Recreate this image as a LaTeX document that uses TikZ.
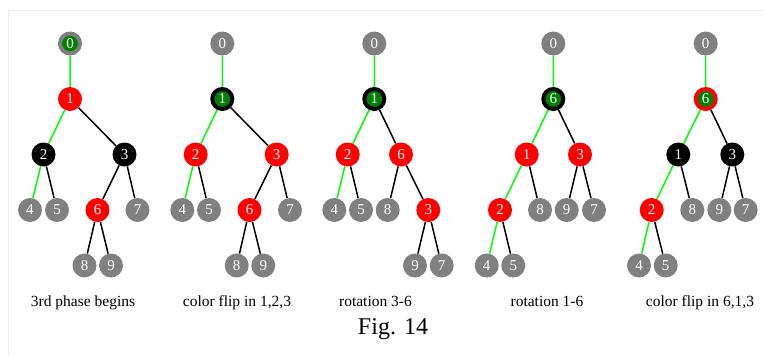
\documentclass[tikz,border=0pt]{standalone}
\usepackage{fontspec}
\setmainfont{Liberation Serif}
\usetikzlibrary{backgrounds}
\definecolor{nodegray}{HTML}{808080}
\definecolor{curgreen}{HTML}{008000}
\definecolor{edgegreen}{HTML}{00FF00}
\definecolor{framegray}{HTML}{EEEEEE}
\tikzset{
  nd/.style={circle, inner sep=0pt, minimum size=24pt, text=white, font=\fontsize{15}{15}\selectfont},
  gn/.style={nd, fill=nodegray},
  rn/.style={nd, fill=red},
  bn/.style={nd, fill=black},
  cn/.style={circle, inner sep=0pt, minimum size=20pt, fill=curgreen, draw=#1, line width=4pt, text=white, font=\fontsize{15}{15}\selectfont},
  ge/.style={draw=edgegreen, line width=1.5pt},
  be/.style={draw=black, line width=1.5pt},
  captxt/.style={anchor=base, font=\fontsize{15.5}{15.5}\selectfont},
}
\begin{document}
\begin{tikzpicture}[x=1pt,y=-1pt]
\useasboundingbox (0,0) rectangle (764,356);
\draw[framegray, line width=1pt] (8.5,356) -- (8.5,10.5) -- (764,10.5);
% ---------- Tree 1 ----------
\node[cn=nodegray] (a0) at (70,43.5) {0};
\node[rn] (a1) at (70,99) {1};
\node[bn] (a2) at (43.5,154.5) {2};
\node[bn] (a3) at (124.5,154.5) {3};
\node[gn] (a4) at (30,210) {4};
\node[gn] (a5) at (57,210) {5};
\node[rn] (a6) at (97.5,210) {6};
\node[gn] (a7) at (137.5,210) {7};
\node[gn] (a8) at (84.5,265.5) {8};
\node[gn] (a9) at (111,265.5) {9};
% ---------- Tree 2 ----------
\node[gn] (b0) at (222.3,43.5) {0};
\node[cn=black] (b1) at (222.3,99) {1};
\node[rn] (b2) at (195.7,154.5) {2};
\node[rn] (b3) at (276.7,154.5) {3};
\node[gn] (b4) at (182.3,210) {4};
\node[gn] (b5) at (209,210) {5};
\node[rn] (b6) at (249.5,210) {6};
\node[gn] (b7) at (290,210) {7};
\node[gn] (b8) at (236.7,265.5) {8};
\node[gn] (b9) at (263.3,265.5) {9};
% ---------- Tree 3 ----------
\node[gn] (c0) at (374.3,43.5) {0};
\node[cn=black] (c1) at (374.3,99) {1};
\node[rn] (c2) at (347.7,154.5) {2};
\node[rn] (c6) at (401,154.5) {6};
\node[gn] (c4) at (334.3,210) {4};
\node[gn] (c5) at (361,210) {5};
\node[gn] (c8) at (387.7,210) {8};
\node[rn] (c3) at (428.3,210) {3};
\node[gn] (c9) at (415,265.5) {9};
\node[gn] (c7) at (441.7,265.5) {7};
% ---------- Tree 4 ----------
\node[gn] (d0) at (553.3,43.5) {0};
\node[cn=black] (d6) at (553.3,99) {6};
\node[rn] (d1) at (526.7,154.5) {1};
\node[rn] (d3) at (580,154.5) {3};
\node[rn] (d2) at (500,210) {2};
\node[gn] (d8) at (540,210) {8};
\node[gn] (d9) at (566.7,210) {9};
\node[gn] (d7) at (594,210) {7};
\node[gn] (d4) at (486.7,265.5) {4};
\node[gn] (d5) at (513.3,265.5) {5};
% ---------- Tree 5 ----------
\node[gn] (e0) at (705.7,43.5) {0};
\node[cn=red] (e6) at (705.7,99) {6};
\node[bn] (e1) at (678.3,154.5) {1};
\node[bn] (e3) at (732.3,154.5) {3};
\node[rn] (e2) at (651.7,210) {2};
\node[gn] (e8) at (692.3,210) {8};
\node[gn] (e9) at (719.3,210) {9};
\node[gn] (e7) at (745.7,210) {7};
\node[gn] (e4) at (639,265.5) {4};
\node[gn] (e5) at (665.7,265.5) {5};
% ---------- Edges ----------
\begin{scope}[on background layer]
\path[ge] (a0) -- (a1) (a1) -- (a2) (a2) -- (a4);
\path[be] (a1) -- (a3) (a2) -- (a5) (a3) -- (a6) (a3) -- (a7) (a6) -- (a8) (a6) -- (a9);
\path[ge] (b0) -- (b1) (b1) -- (b2) (b2) -- (b4);
\path[be] (b1) -- (b3) (b2) -- (b5) (b3) -- (b6) (b3) -- (b7) (b6) -- (b8) (b6) -- (b9);
\path[ge] (c0) -- (c1) (c1) -- (c2) (c2) -- (c4);
\path[be] (c1) -- (c6) (c2) -- (c5) (c6) -- (c8) (c6) -- (c3) (c3) -- (c9) (c3) -- (c7);
\path[ge] (d0) -- (d6) (d6) -- (d1) (d1) -- (d2) (d2) -- (d4);
\path[be] (d6) -- (d3) (d1) -- (d8) (d3) -- (d9) (d3) -- (d7) (d2) -- (d5);
\path[ge] (e0) -- (e6) (e6) -- (e1) (e1) -- (e2) (e2) -- (e4);
\path[be] (e6) -- (e3) (e1) -- (e8) (e3) -- (e9) (e3) -- (e7) (e2) -- (e5);
\end{scope}
% ---------- Captions ----------
\node[captxt] (l1) at (83,306.5) {3rd phase begins};
\node[captxt] (l2) at (237,306.5) {color flip in 1,2,3};
\node[captxt] (l3) at (375.5,306.5) {rotation 3-6};
\node[captxt] (l4) at (547,306.5) {rotation 1-6};
\node[captxt] (l5) at (700,306.5) {color flip in 6,1,3};
\node[anchor=base, font=\fontsize{24}{24}\selectfont] (fig) at (393,334) {Fig. 14};
\end{tikzpicture}
\end{document}
